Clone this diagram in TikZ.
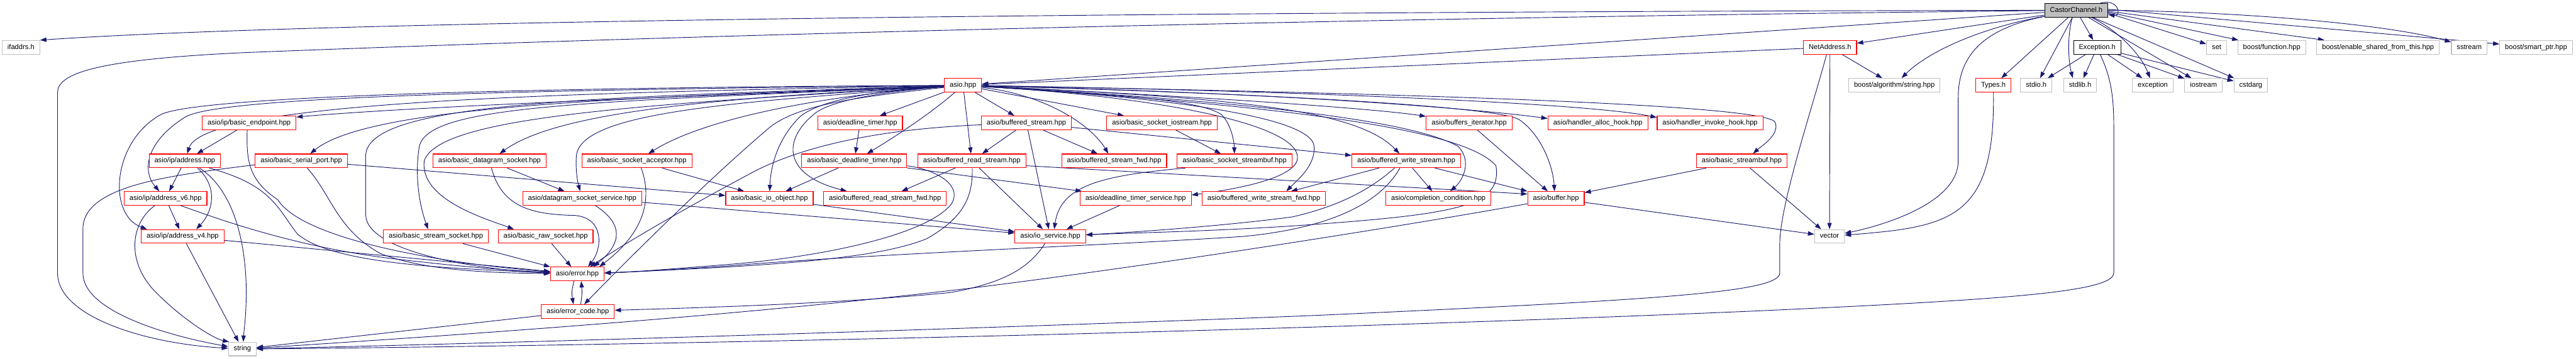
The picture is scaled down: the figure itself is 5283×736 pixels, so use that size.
\documentclass[tikz,border=0pt]{standalone}
\usepackage{fontspec}
\setmainfont{Liberation Sans}
\usetikzlibrary{arrows.meta}
\definecolor{edgeblue}{HTML}{191970}
\definecolor{nodered}{HTML}{FF0000}
\definecolor{nodegray}{HTML}{BFBFBF}
\pgfdeclarelayer{bg}
\pgfsetlayers{bg,main}
\newcommand{\fsz}{\fontsize{14.38pt}{16pt}\selectfont}
\begin{document}
\begin{tikzpicture}[x=1pt,y=-1pt,
  nd/.style={rectangle, line width=1.4pt, minimum height=28pt, inner xsep=10.9pt, inner ysep=0pt, text height=10.3pt, text depth=3pt, font=\fsz, fill=white},
  rd/.style={nd, draw=nodered},
  gr/.style={nd, draw=nodegray},
  bk/.style={nd, draw=black},
  mainnd/.style={nd, draw=black, fill=nodegray},
  e/.style={draw=edgeblue, line width=1.2pt, -{Triangle[length=13pt,width=9pt]}}]
\useasboundingbox (0,0) rectangle (5283,736);
% row 0
\node[mainnd] (cc) at (4258,21) {CastorChannel.h};
% row 1
\node[gr] (ifaddrs) at (43,97) {ifaddrs.h};
\node[rd] (netaddr) at (3753,97) {NetAddress.h};
\node[bk] (exc) at (4301,97) {Exception.h};
\node[gr] (set) at (4546,97) {set};
\node[gr] (bfunc) at (4659,97) {boost/function.hpp};
\node[gr] (besft) at (4877,97) {boost/enable\_shared\_from\_this.hpp};
\node[gr] (sstream) at (5064,97) {sstream};
\node[gr] (bsmart) at (5201,97) {boost/smart\_ptr.hpp};
% row 2
\node[rd] (asio) at (1975,175) {asio.hpp};
\node[gr] (balg) at (3885,175) {boost/algorithm/string.hpp};
\node[rd] (types) at (4088,175) {Types.h};
\node[gr] (stdio) at (4176,175) {stdio.h};
\node[gr] (stdlib) at (4266,175) {stdlib.h};
\node[gr] (exception) at (4415,175) {exception};
\node[gr] (iostream) at (4519,175) {iostream};
\node[gr] (cstdarg) at (4616,175) {cstdarg};
% row 3
\node[rd] (ipbe) at (511,252) {asio/ip/basic\_endpoint.hpp};
\node[rd] (dt) at (1764,252) {asio/deadline\_timer.hpp};
\node[rd] (bs) at (2105,252) {asio/buffered\_stream.hpp};
\node[rd] (bsio) at (2383,252) {asio/basic\_socket\_iostream.hpp};
\node[rd] (bi) at (3013,252) {asio/buffers\_iterator.hpp};
\node[rd] (hah) at (3277,252) {asio/handler\_alloc\_hook.hpp};
\node[rd] (hih) at (3507,252) {asio/handler\_invoke\_hook.hpp};
% row 4
\node[rd] (ipaddr) at (379,330) {asio/ip/address.hpp};
\node[rd] (bsp) at (618,330) {asio/basic\_serial\_port.hpp};
\node[rd] (bds) at (1004,330) {asio/basic\_datagram\_socket.hpp};
\node[rd] (bsa) at (1306,330) {asio/basic\_socket\_acceptor.hpp};
\node[rd] (bdt) at (1752,330) {asio/basic\_deadline\_timer.hpp};
\node[rd] (brs) at (1993,330) {asio/buffered\_read\_stream.hpp};
\node[rd] (bsf) at (2285,330) {asio/buffered\_stream\_fwd.hpp};
\node[rd] (bssb) at (2532,330) {asio/basic\_socket\_streambuf.hpp};
\node[rd] (bws) at (2884,330) {asio/buffered\_write\_stream.hpp};
\node[rd] (bsb) at (3572,330) {asio/basic\_streambuf.hpp};
% row 5
\node[rd] (v6) at (339.5,407) {asio/ip/address\_v6.hpp};
\node[rd] (dss) at (1194,407) {asio/datagram\_socket\_service.hpp};
\node[rd] (bio) at (1578,407) {asio/basic\_io\_object.hpp};
\node[rd] (brsf) at (1815,407) {asio/buffered\_read\_stream\_fwd.hpp};
\node[rd] (dts) at (2329,407) {asio/deadline\_timer\_service.hpp};
\node[rd] (bwsf) at (2592,407) {asio/buffered\_write\_stream\_fwd.hpp};
\node[rd] (cc2) at (2950,407) {asio/completion\_condition.hpp};
\node[rd] (buf) at (3191,407) {asio/buffer.hpp};
% row 6
\node[rd] (v4) at (374.5,485) {asio/ip/address\_v4.hpp};
\node[rd] (bss) at (894,485) {asio/basic\_stream\_socket.hpp};
\node[rd] (brws) at (1119,485) {asio/basic\_raw\_socket.hpp};
\node[rd] (ios) at (2154,485) {asio/io\_service.hpp};
\node[gr] (vector) at (3752,485) {vector};
% rows 7-9
\node[rd] (err) at (1184,562) {asio/error.hpp};
\node[rd] (ec) at (1185,639) {asio/error\_code.hpp};
\node[gr] (string) at (497,716) {string};

\begin{pgfonlayer}{bg}
\fill[white] (0,0) rectangle (5283,736);
% CastorChannel.h
\draw[e] (cc) .. controls (2500,24) and (700,40) .. (ifaddrs.north east);
\draw[e] (cc) .. controls (2500,40) and (1200,80) .. (500,108) .. controls (200,122) and (118,150) .. (118,190) -- (118,560) .. controls (118,650) and (300,705) .. (string);
\draw[e] (cc) -- (asio);
\draw[e] (cc) -- (netaddr);
\draw[e] (cc) .. controls (4050,60) and (3950,110) .. (balg);
\draw[e] (cc) .. controls (4060,60) and (4016,120) .. (4016,200) -- (4016,330) .. controls (4016,420) and (3850,465) .. (vector);
\draw[e] (cc) -- (types);
\draw[e] (cc) -- (stdio);
\draw[e] ([xshift=-8pt]cc.south) .. controls (4238,80) and (4243,130) .. ([xshift=-15pt]stdlib.north);
\draw[e] (cc) -- (exc);
\draw[e] (cc) .. controls (4340,60) and (4390,110) .. (exception);
\draw[e] (cc) -- (iostream);
\draw[e] (cc) -- (cstdarg);
\draw[e] ([yshift=-6pt]cc.east) -- (set);
\draw[e] ([yshift=-4pt]cc.east) -- (bfunc);
\draw[e] ([yshift=-2pt]cc.east) -- (besft);
\draw[e] (cc.east) .. controls (4600,24) and (4900,50) .. (sstream);
\draw[e] ([yshift=2pt]cc.east) -- (bsmart);
\draw[e] ([xshift=-16pt]cc.north east) .. controls (4345,-4) and (4352,34) .. ([yshift=-9pt]cc.east);
% NetAddress.h
\draw[e] (netaddr) -- (asio);
\draw[e] (netaddr) -- (balg);
\draw[e] (netaddr) -- (vector);
\draw[e] ([xshift=-7pt]netaddr.south) .. controls (3720,210) and (3650,420) .. (3650,500) -- (3650,560) .. controls (3650,600) and (3400,615) .. (2700,647) .. controls (2000,675) and (1000,705) .. (string);
% Exception.h
\draw[e] (exc) -- (stdio);
\draw[e] (exc) -- (stdlib);
\draw[e] (exc) -- (exception);
\draw[e] (exc) -- (iostream);
\draw[e] (exc) -- (cstdarg);
\draw[e] ([xshift=6pt]exc.south) .. controls (4330,160) and (4335,200) .. (4335,260) -- (4335,560) .. controls (4335,600) and (4100,615) .. (3600,638) .. controls (2500,685) and (1200,710) .. (string);
% Types.h
\draw[e] (types) .. controls (4092,450) and (4000,465) .. (vector);
% asio.hpp
\draw[e] (asio) .. controls (1500,195) and (900,215) .. ([yshift=12pt]ipbe.east);
\draw[e] (asio) .. controls (1200,190) and (420,205) .. (ipaddr);
\draw[e] (asio) .. controls (1000,185) and (450,200) .. (380,240) .. controls (300,290) and (290,350) .. (v6);
\draw[e] (asio) .. controls (1000,180) and (400,200) .. (330,235) .. controls (230,290) and (220,440) .. ([xshift=-73pt]v4.north);
\draw[e] (asio) .. controls (1300,200) and (760,215) .. (bsp);
\draw[e] (asio) .. controls (1200,200) and (750,210) .. (750,320) -- (750,440) .. controls (750,520) and (1000,555) .. (err);
\draw[e] (asio) .. controls (1200,210) and (880,215) .. (860,300) .. controls (850,360) and (860,420) .. ([xshift=-16pt]bss.north);
\draw[e] (asio) .. controls (1300,215) and (900,240) .. (870,330) .. controls (860,410) and (1000,450) .. ([xshift=-65pt]brws.north);
\draw[e] (asio) .. controls (1500,200) and (1150,225) .. (bds);
\draw[e] (asio) .. controls (1700,195) and (1450,240) .. (bsa);
\draw[e] (asio) .. controls (1500,210) and (1190,230) .. (1182,320) .. controls (1180,350) and (1185,375) .. (dss);
\draw[e] (asio) .. controls (1750,200) and (1640,215) .. (1580,260) .. controls (1450,370) and (1280,540) .. ([xshift=13pt]ec.north);
\draw[e] (asio) .. controls (1800,185) and (1680,205) .. (1640,240) .. controls (1590,290) and (1580,350) .. (bio);
\draw[e] (asio) .. controls (1850,185) and (1715,200) .. (1672,232) .. controls (1600,290) and (1610,360) .. ([xshift=-78pt]brsf.north);
\draw[e] (asio) -- (dt);
\draw[e] (asio) .. controls (1900,240) and (1820,290) .. ([xshift=26pt]bdt.north);
\draw[e] (asio) -- (brs);
\draw[e] (asio) -- (bs);
\draw[e] (asio) .. controls (2150,195) and (2240,260) .. ([xshift=-12pt]bsf.north);
\draw[e] (asio) -- (bsio);
\draw[e] (asio) .. controls (2300,195) and (2460,205) .. (2505,235) .. controls (2525,255) and (2531,290) .. (bssb);
\draw[e] (asio) .. controls (2400,200) and (2680,260) .. (2660,330) .. controls (2645,370) and (2520,390) .. ([yshift=7pt]dts.east);
\draw[e] (asio) .. controls (2500,200) and (2780,220) .. ([xshift=-14pt]bws.north);
\draw[e] (asio) .. controls (2400,200) and (2690,240) .. (2695,300) .. controls (2698,340) and (2660,370) .. ([xshift=46pt]bwsf.north);
\draw[e] (asio) .. controls (2600,210) and (2900,250) .. (2990,300) .. controls (3020,330) and (3000,370) .. ([xshift=24pt]cc2.north);
\draw[e] (asio) .. controls (2700,195) and (3075,222) .. (3115,245) .. controls (3160,275) and (3185,340) .. ([xshift=-3pt]buf.north);
\draw[e] (asio) .. controls (2400,195) and (2800,220) .. (bi);
\draw[e] (asio) .. controls (2600,190) and (3000,220) .. ([yshift=9pt]hah.west);
\draw[e] (asio) .. controls (2600,185) and (3250,210) .. ([yshift=11pt]hih.west);
\draw[e] (asio) .. controls (2800,190) and (3610,212) .. (3640,250) .. controls (3652,275) and (3612,300) .. ([xshift=23pt]bsb.north);
\draw[e] (asio) .. controls (2600,215) and (3000,260) .. (3068,340) .. controls (3080,420) and (3000,438) .. (2700,460) .. controls (2500,475) and (2300,478) .. ([yshift=3pt]ios.east);
% asio/ip
\draw[e] (ipbe) -- (ipaddr);
\draw[e] ([xshift=-4pt]ipbe.south) .. controls (505,330) and (510,370) .. (570,410) .. controls (620,490) and (900,540) .. (err);
\draw[e] (ipaddr) -- (v6);
\draw[e] ([xshift=26pt]ipaddr.south) .. controls (445,380) and (440,430) .. ([xshift=28pt]v4.north);
\draw[e] ([xshift=30pt]ipaddr.south) .. controls (480,390) and (505,500) .. (505,600) .. controls (505,650) and (500,680) .. ([xshift=2pt]string.north);
\draw[e] ([xshift=50pt]ipaddr.south) .. controls (560,380) and (570,430) .. (610,480) .. controls (680,540) and (900,550) .. (err);
\draw[e] (v6) -- (v4);
\draw[e] ([xshift=-22pt]v6.south) .. controls (265,460) and (260,540) .. (320,600) .. controls (380,660) and (440,695) .. ([xshift=2pt]string.north west);
\draw[e] ([xshift=31pt]v6.south) .. controls (450,450) and (600,505) .. (800,530) .. controls (950,548) and (1050,555) .. (err);
\draw[e] (v4) -- (string);
\draw[e] (v4) -- (err);
% sockets
\draw[e] ([yshift=-8pt]bsp.west) .. controls (350,360) and (170,380) .. (170,470) -- (170,560) .. controls (170,640) and (350,690) .. (string);
\draw[e] ([yshift=-7pt]bsp.east) -- ([yshift=6pt]bio.west);
\draw[e] ([xshift=12pt]bsp.south) .. controls (680,400) and (690,470) .. (780,520) .. controls (880,560) and (1050,560) .. (err);
\draw[e] (bss) -- (err);
\draw[e] (brws) -- (err);
\draw[e] (bds) -- (dss);
\draw[e] ([xshift=4pt]bds.south) .. controls (1030,430) and (1100,440) .. (1180,442) .. controls (1240,448) and (1235,510) .. ([xshift=22pt]err.north);
\draw[e] ([xshift=27pt]dss.south) .. controls (1280,460) and (1275,500) .. ([xshift=33pt]err.north);
\draw[e] ([yshift=-8pt]dss.east) -- ([yshift=7pt]ios.west);
\draw[e] (bsa) -- (bio);
\draw[e] ([xshift=9pt]bsa.south) .. controls (1335,400) and (1330,470) .. ([xshift=45pt]err.north);
\draw[e] (bio) -- (ios);
% timers
\draw[e] (dt) -- (bdt);
\draw[e] (bdt) -- (bio);
\draw[e] (bdt) -- (dts);
\draw[e] ([yshift=-10pt]bdt.east) .. controls (1930,350) and (1975,385) .. (1950,420) .. controls (1900,480) and (1700,525) .. (1500,542) .. controls (1400,550) and (1300,558) .. (err);
\draw[e] (dts) -- (ios);
% buffered streams
\draw[e] (brs) -- (brsf);
\draw[e] (brs) -- (ios);
\draw[e] ([yshift=-10pt]brs.east) -- ([yshift=9pt]buf.west);
\draw[e] ([xshift=1pt]brs.south) .. controls (1995,400) and (1980,445) .. (1900,490) .. controls (1800,530) and (1600,545) .. (err);
\draw[e] (bs) -- (brs);
\draw[e] (bs) -- (bsf);
\draw[e] (bs) -- (ios);
\draw[e] (bs) -- (bws);
\draw[e] ([yshift=-4pt]bs.west) .. controls (1800,265) and (1650,300) .. (1550,350) .. controls (1400,430) and (1280,500) .. ([xshift=26pt]err.north);
\draw[e] (bsio) -- (bssb);
\draw[e] ([xshift=-101pt]bssb.south) .. controls (2260,360) and (2175,380) .. ([xshift=8pt]ios.north);
\draw[e] (bws) -- (bwsf);
\draw[e] (bws) -- (cc2);
\draw[e] (bws) -- (buf);
\draw[e] ([xshift=-24pt]bws.south) .. controls (2820,380) and (2760,420) .. (2650,445) .. controls (2500,465) and (2300,478) .. (ios);
\draw[e] ([xshift=-13pt]bws.south) .. controls (2840,400) and (2760,465) .. (2550,485) .. controls (2300,502) and (1800,520) .. (1500,545) .. controls (1400,552) and (1300,558) .. (err);
% buffers
\draw[e] (bi) -- (buf);
\draw[e] (bsb) -- (buf);
\draw[e] (bsb) -- (vector);
\draw[e] (buf) -- (vector);
\draw[e] ([yshift=-11pt]buf.west) .. controls (2900,460) and (2400,540) .. (2000,590) .. controls (1500,650) and (900,690) .. (string);
% io_service, error
\draw[e] ([xshift=-11pt]ios.south) .. controls (2110,550) and (2060,580) .. (1950,600) .. controls (1700,625) and (1400,632) .. (ec);
\draw[e] ([xshift=-7pt]err.south) .. controls (1172,600) .. ([xshift=-9pt]ec.north);
\draw[e] ([xshift=6pt]ec.north) .. controls (1194,600) .. ([xshift=8pt]err.south);
\draw[e] (ec) -- (string);
\end{pgfonlayer}
\end{tikzpicture}
\end{document}
